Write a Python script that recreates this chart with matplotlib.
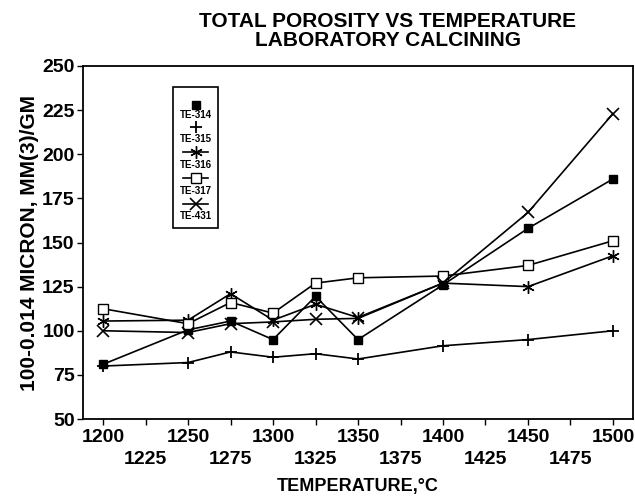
import matplotlib
matplotlib.use("Agg")
import matplotlib.pyplot as plt
from matplotlib.patches import Rectangle
from matplotlib.lines import Line2D

plt.rcParams['font.family'] = ['Liberation Sans', 'DejaVu Sans']
plt.rcParams['font.weight'] = 'bold'

temps = [1200, 1250, 1275, 1300, 1325, 1350, 1400, 1450, 1500]
te314 = [81, 100.5, 105.5, 95, 119.5, 95, 126, 158, 186]
te315 = [80, 82, 88, 85, 87, 84, 91.5, 95, 100]
te316 = [105.5, 106, 121, 106, 115, 107.5, 127, 125, 142.5]
te317 = [112.5, 104, 116, 110, 127, 130, 131, 137, 151]
te431 = [100, 99, 104, 105, 106.5, 107, 127, 167, 223]

names = ['TE-314', 'TE-315', 'TE-316', 'TE-317', 'TE-431']
series = [te314, te315, te316, te317, te431]
styles = [
    dict(marker='s', ms=6, mfc='black', mec='black'),
    dict(marker='+', ms=9, mew=1.3),
    dict(marker=(6, 2, 0), ms=9, mew=1.0),
    dict(marker='s', ms=7, mfc='white', mec='black', mew=1.0),
    dict(marker='x', ms=8, mew=1.2),
]

fig = plt.figure(figsize=(6.35, 4.98), dpi=100)
ax = fig.add_axes([0.1307, 0.1586, 0.8662, 0.7089])

for vals, st in zip(series, styles):
    ax.plot(temps, vals, color='black', lw=1.2, **st)

ax.set_xlim(1188.2, 1511.8)
ax.set_ylim(50, 250)
ax.set_yticks(range(50, 251, 25))
ax.set_xticks(range(1200, 1501, 50))
ax.set_xticks(range(1225, 1500, 50), minor=True)
ax.set_xticklabels([str(t) for t in range(1200, 1501, 50)])
ax.set_xticklabels([str(t) for t in range(1225, 1500, 50)], minor=True)
ax.tick_params(axis='both', which='both', direction='out', length=4, width=1,
               labelsize=14)
ax.tick_params(axis='y', pad=2)
ax.tick_params(axis='x', which='major', pad=3)
ax.tick_params(axis='x', which='minor', pad=19)
for s in ax.spines.values():
    s.set_linewidth(1.3)

ax.set_xlabel('TEMPERATURE,°C', fontsize=13, fontweight='bold', labelpad=7)
ax.set_ylabel('100-0.014 MICRON, MM(3)/GM', fontsize=15, fontweight='bold',
              labelpad=2)
fig.text(0.611, 0.975, 'TOTAL POROSITY VS TEMPERATURE\nLABORATORY CALCINING',
         ha='center', va='top', fontsize=15, fontweight='bold',
         linespacing=1.0)

# legend drawn as a box with marker above each label
lx0, lx1 = (173 - 83) / 550, (218 - 83) / 550
ly_top, ly_bot = (419 - 87) / 353, (419 - 228) / 353
ax.add_patch(Rectangle((lx0, ly_bot), lx1 - lx0, ly_top - ly_bot,
                       transform=ax.transAxes, fill=False, lw=1.2,
                       edgecolor='black', zorder=5))
cx = (lx0 + lx1) / 2
marker_y = [105, 127, 152, 178, 204]
label_y = [115, 139, 165, 191, 216]
for i, (name, st) in enumerate(zip(names, styles)):
    my = (419 - marker_y[i]) / 353
    if i > 1:
        ax.add_line(Line2D([cx - 0.022, cx + 0.022], [my, my],
                           transform=ax.transAxes, color='black', lw=1.2,
                           zorder=6))
    ax.add_line(Line2D([cx], [my], transform=ax.transAxes, color='black',
                       lw=0, zorder=7, **st))
    ax.text(cx, (419 - label_y[i]) / 353, name, transform=ax.transAxes,
            ha='center', va='center', fontsize=7, fontweight='bold', zorder=6)

fig.savefig('out.png', dpi=100)
